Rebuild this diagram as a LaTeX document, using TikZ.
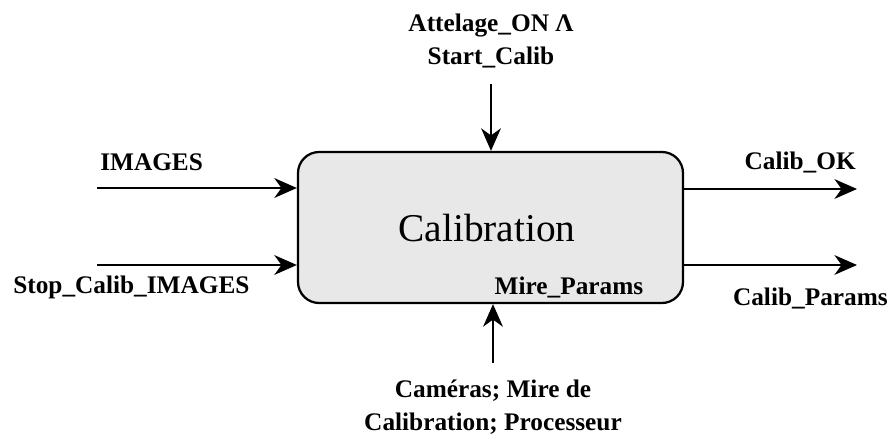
\documentclass[tikz,border=0pt]{standalone}
\usepackage{fontspec}
\setmainfont{Liberation Serif}
\newfontfamily\timesfont{Liberation Serif}
\usetikzlibrary{arrows.meta}
\usetikzlibrary{positioning}

\tikzset{flow/.style={-{Stealth[length=16pt,width=14pt,inset=5pt]}, line width=1.6pt}}
\tikzset{lbl/.style={font=\timesfont\fontsize{18}{21}\selectfont\bfseries, inner sep=0pt, align=center}}

\begin{document}
\begin{tikzpicture}[x=0.025cm, y=-0.025cm]

  \useasboundingbox (0,0) rectangle (888,435);

  \node[draw, line width=1.6pt, fill=black!9, rounded corners=15,
    minimum width=385*0.025cm, minimum height=151*0.025cm, inner sep=0pt]
  (calib) at (490.5,227.5) {};
  \node[font=\timesfont\fontsize{28}{32}\selectfont] (title) at (487,228) {Calibration};
  \node[lbl] (mire) at (569,287) {Mire\_Params};

  \coordinate (in1) at (97,188);
  \coordinate (in2) at (97,265);
  \coordinate (out1) at (857,189);
  \coordinate (out2) at (857,265);
  \coordinate (ctl) at (491,84);
  \coordinate (mech) at (493,363);

  \draw[flow] (in1) -- (in1 -| calib.west);
  \draw[flow] (in2) -- (in2 -| calib.west);
  \draw[flow] (out1 -| calib.east) -- (out1);
  \draw[flow] (out2 -| calib.east) -- (out2);
  \draw[flow] (ctl) -- (ctl |- calib.north);
  \draw[flow] (mech) -- (mech |- calib.south);

  \node[lbl, anchor=west] (images) at (100,162) {IMAGES};
  \node[lbl, anchor=west] (stop) at (13,287) {Stop\_Calib\_IMAGES};
  \node[lbl, anchor=east] (ok) at (856,162) {Calib\_OK};
  \node[lbl, anchor=east] (params) at (888,298) {Calib\_Params};
  \node[lbl] (start) at (491,41) {Attelage\_ON Λ\\[2pt]Start\_Calib};
  \node[lbl] (res) at (493,407) {Caméras; Mire de\\[2pt]Calibration; Processeur};

\end{tikzpicture}
\end{document}
